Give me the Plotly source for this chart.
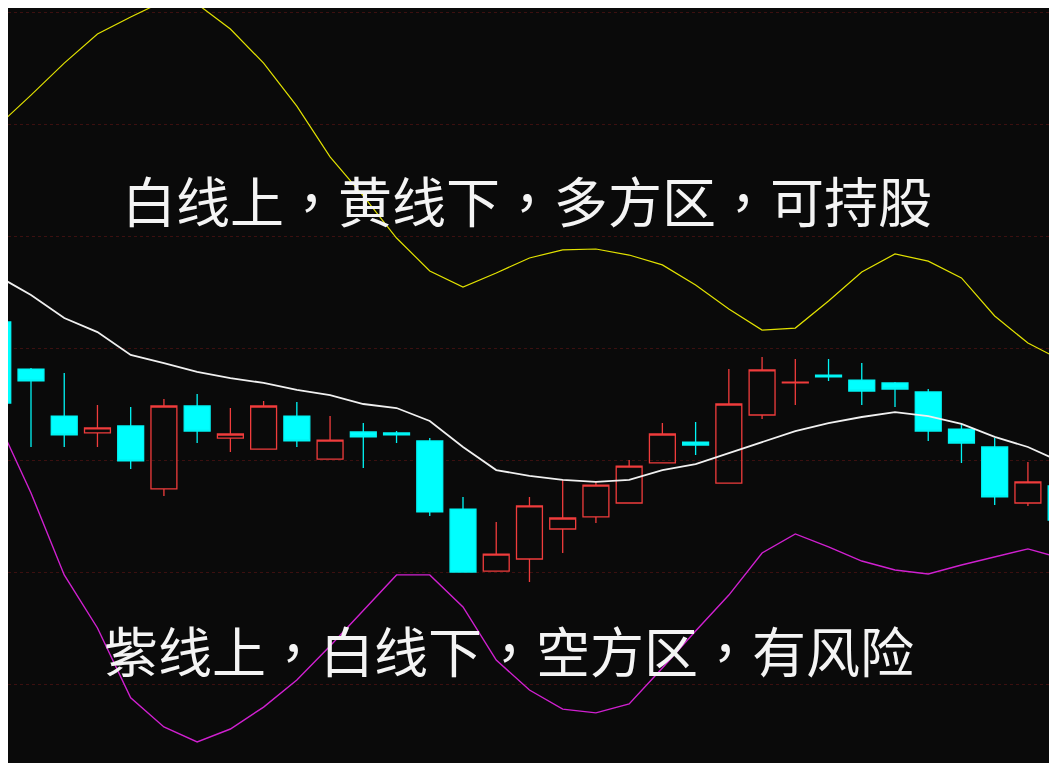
import plotly.graph_objects as go

# candle index (k=-1 and k=31 are partly cut off at the edges)
idx = list(range(-1, 32))

opens = [10.116, 9.906, 9.696, 9.621, 9.652, 9.371, 9.741, 9.598, 9.549, 9.696, 9.504,
         9.625, 9.621, 9.585, 9.281, 9.004, 9.058, 9.192, 9.246, 9.308, 9.487, 9.580,
         9.397, 9.701, 9.844, 9.879, 9.857, 9.844, 9.804, 9.638, 9.558, 9.308, 9.384]
highs = [10.134, 9.911, 9.888, 9.746, 9.737, 9.772, 9.795, 9.732, 9.763, 9.759, 9.696,
         9.665, 9.629, 9.598, 9.335, 9.223, 9.335, 9.411, 9.406, 9.500, 9.665, 9.670,
         9.906, 9.960, 9.951, 9.951, 9.933, 9.848, 9.817, 9.665, 9.598, 9.491, 9.411]
lows = [9.723, 9.558, 9.558, 9.558, 9.460, 9.339, 9.576, 9.536, 9.549, 9.558, 9.504,
        9.464, 9.576, 9.250, 9.000, 9.004, 8.955, 9.085, 9.219, 9.308, 9.487, 9.522,
        9.397, 9.683, 9.746, 9.853, 9.746, 9.737, 9.585, 9.487, 9.299, 9.295, 9.210]
closes = [9.754, 9.853, 9.612, 9.643, 9.496, 9.741, 9.629, 9.616, 9.741, 9.585, 9.589,
          9.603, 9.612, 9.268, 9.000, 9.080, 9.295, 9.241, 9.388, 9.473, 9.616, 9.567,
          9.750, 9.902, 9.848, 9.871, 9.808, 9.817, 9.629, 9.576, 9.335, 9.402, 9.232]

# bollinger lines
mid_line = [10.321, 10.237, 10.134, 10.071, 9.969, 9.933, 9.893, 9.866, 9.844, 9.813, 9.790,
            9.750, 9.732, 9.674, 9.558, 9.455, 9.429, 9.411, 9.402, 9.411, 9.455, 9.482,
            9.531, 9.580, 9.629, 9.665, 9.692, 9.714, 9.696, 9.661, 9.603, 9.558, 9.491]
upper_line = [10.991, 11.129, 11.272, 11.402, 11.478, 11.549, 11.536, 11.424, 11.272, 11.080, 10.853,
              10.679, 10.491, 10.344, 10.272, 10.335, 10.402, 10.438, 10.442, 10.415, 10.371, 10.281,
              10.174, 10.080, 10.089, 10.210, 10.339, 10.420, 10.388, 10.313, 10.143, 10.022, 9.946]
lower_line = [9.674, 9.353, 8.987, 8.750, 8.438, 8.308, 8.241, 8.299, 8.397, 8.518, 8.670,
              8.830, 8.987, 8.987, 8.844, 8.607, 8.473, 8.388, 8.371, 8.411, 8.571, 8.737,
              8.897, 9.085, 9.170, 9.112, 9.049, 9.009, 8.991, 9.031, 9.067, 9.103, 9.062]

grid_levels = [8.5, 9.0, 9.5, 10.0, 10.5, 11.0, 11.5]

text_top = "白线上，黄线下，多方区，可持股"
text_bottom = "紫线上，白线下，空方区，有风险"

fig = go.Figure()

fig.add_trace(go.Scatter(x=idx, y=upper_line, mode='lines',
                         line=dict(color='#e2e200', width=1.2), hoverinfo='skip'))
fig.add_trace(go.Scatter(x=idx, y=lower_line, mode='lines',
                         line=dict(color='#d020d0', width=1.4), hoverinfo='skip'))
fig.add_trace(go.Scatter(x=idx, y=mid_line, mode='lines',
                         line=dict(color='#f0f0f0', width=1.8), hoverinfo='skip'))

fig.add_trace(go.Candlestick(
    x=idx, open=opens, high=highs, low=lows, close=closes,
    increasing=dict(line=dict(color='#f03c3c', width=1.3), fillcolor='rgba(0,0,0,0)'),
    decreasing=dict(line=dict(color='#00f5f5', width=1.3), fillcolor='#00ffff'),
    whiskerwidth=0,
))

label_font = dict(family='Noto Sans CJK TC', size=54, color='#f4f4f4')
fig.add_annotation(x=0.4948, y=0.7457, xref='paper', yref='paper', text=text_top,
                   xanchor='center', yanchor='middle', showarrow=False, font=label_font)
fig.add_annotation(x=0.4776, y=0.1497, xref='paper', yref='paper', text=text_bottom,
                   xanchor='center', yanchor='middle', showarrow=False, font=label_font)

# page body adds an 8px margin, so the figure is sized to fit inside the window
fig.update_layout(
    width=1049,
    height=755,
    margin=dict(l=0, r=0, t=0, b=0),
    paper_bgcolor='#0a0a0a',
    plot_bgcolor='#0a0a0a',
    showlegend=False,
    boxgap=0.22,
    boxgroupgap=0,
    xaxis=dict(range=[-0.692, 30.875], showgrid=False, zeroline=False,
               showticklabels=False, rangeslider=dict(visible=False), fixedrange=True),
    yaxis=dict(range=[8.1473, 11.5179], tickvals=grid_levels, showgrid=True,
               gridcolor='#3c1010', griddash='dot', gridwidth=1, zeroline=False,
               showticklabels=False, fixedrange=True),
)

fig.write_html("out.html")
